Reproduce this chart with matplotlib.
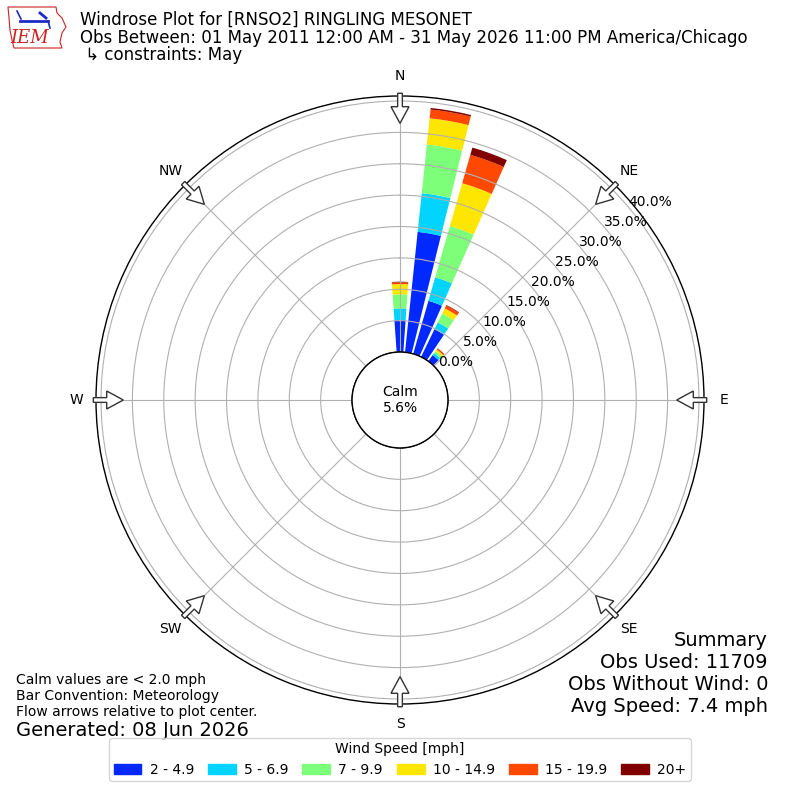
import numpy as np
import matplotlib
matplotlib.use('Agg')
import matplotlib.pyplot as plt
from matplotlib.patches import Patch, FancyArrow, Circle, Polygon
import matplotlib.transforms as mtransforms

# wind direction of each bar (deg, meteorological) and percent of obs per speed bin
directions = [0, 10, 20, 30, 40]
speed_bins = ['2 - 4.9', '5 - 6.9', '7 - 9.9', '10 - 14.9', '15 - 19.9', '20+']
bin_colors = ['#0028ff', '#00d4ff', '#7dff7a', '#ffe600', '#ff4800', '#800000']
pct_2_5 = [5.1, 19.3, 8.8, 4.9, 1.2]
pct_5_7 = [1.86, 6.2, 3.9, 1.2, 0.4]
pct_7_10 = [2.23, 7.8, 8.5, 1.6, 0.4]
pct_10_15 = [1.64, 4.2, 7.1, 0.9, 0.3]
pct_15_20 = [0.3, 1.4, 4.7, 0.5, 0.2]
pct_20p = [0.08, 0.25, 1.2, 0.1, 0.05]
calm_pct = 5.6
rticks = [0, 5, 10, 15, 20, 25, 30, 35, 40]
compass = ['N', 'NE', 'E', 'SE', 'S', 'SW', 'W', 'NW']

series = [pct_2_5, pct_5_7, pct_7_10, pct_10_15, pct_15_20, pct_20p]

fig = plt.figure(figsize=(8, 8), dpi=100)
ax = fig.add_axes([0.12, 0.12, 0.76, 0.76], projection='polar')
ax.set_theta_zero_location('N')
ax.set_theta_direction(-1)
rmax = 40.8
rorigin = -7.64
ax.set_rorigin(rorigin)
ax.set_ylim(0, rmax)

theta = np.deg2rad(directions)
bottom = np.zeros(len(directions))
for vals, col, lab in zip(series, bin_colors, speed_bins):
    ax.bar(theta, vals, width=np.deg2rad(8), bottom=bottom, color=col,
           linewidth=0, label=lab, align='center')
    bottom += np.array(vals)

ax.set_yticks(rticks)
ax.set_yticklabels([])
ax.set_xticks(np.deg2rad(np.arange(0, 360, 45)))
ax.set_xticklabels([])
ax.grid(True, color='#b0b0b0', linewidth=0.8)
ax.spines['polar'].set_linewidth(1)

# radial labels
off = mtransforms.ScaledTranslation(0.19, 0.08, fig.dpi_scale_trans)
for r in rticks:
    ax.text(np.deg2rad(50.5), r, '%.1f%%' % r, transform=ax.transData + off,
            ha='center', va='center', fontsize=10, clip_on=False, zorder=6)

# calm circle
calm_rad = (0 - rorigin) / (rmax - rorigin) * 0.5
ax.add_patch(Circle((0.5, 0.5), calm_rad, transform=ax.transAxes, fc='white',
                    ec='black', lw=1, zorder=5, clip_on=False))
ax.text(0.5, 0.5, 'Calm\n%.1f%%' % calm_pct, transform=ax.transAxes,
        ha='center', va='center', fontsize=10, zorder=6)

# compass labels
for i, lab in enumerate(compass):
    a = np.deg2rad(i * 45)
    ax.text(0.5 + 0.533 * np.sin(a), 0.5 + 0.533 * np.cos(a), lab,
            transform=ax.transAxes, ha='center', va='center', fontsize=10)

# flow arrows (pointing in to center)
R = 0.38
for i in range(8):
    a = np.deg2rad(i * 45)
    ux, uy = np.sin(a), np.cos(a)
    r0 = R + 2.7 / 800
    L = 30 / 800
    arr = FancyArrow(0.5 + r0 * ux, 0.5 + r0 * uy, -L * ux, -L * uy,
                     width=4.7 / 800, head_width=18 / 800, head_length=16.6 / 800,
                     length_includes_head=True, transform=fig.transFigure,
                     fc='white', ec='#333333', lw=1, zorder=10)
    fig.add_artist(arr)

# header
fig.text(80 / 800, 1 - 20 / 800, 'Windrose Plot for [RNSO2] RINGLING MESONET',
         fontsize=12, va='center')
fig.text(80 / 800, 1 - 38 / 800,
         'Obs Between: 01 May 2011 12:00 AM - 31 May 2026 11:00 PM America/Chicago',
         fontsize=12, va='center')
fig.text(80 / 800, 1 - 55 / 800, ' \u21b3 constraints: May', fontsize=12, va='center')

# logo
lax = fig.add_axes([0, 1 - 55 / 800, 75 / 800, 55 / 800])
lax.set_xlim(0, 75)
lax.set_ylim(55, 0)
lax.axis('off')
iowa = [(8, 7), (56, 7), (57, 13), (62, 18), (66, 27), (62, 33), (60, 42),
        (62, 48), (14, 48), (12, 40), (10, 30), (9, 18)]
lax.add_patch(Polygon(iowa, closed=True, fill=False, ec='#cc2222', lw=0.8))
lax.plot([20, 48], [21, 21], color='#1a2bc8', lw=2)
lax.plot([17, 21], [11, 19], color='#1a2bc8', lw=1.2)
lax.plot([40, 46], [13, 18], color='#1a2bc8', lw=2)
lax.plot([48, 50], [21, 28], color='#1a2bc8', lw=1.2)
lax.text(30, 38, 'IEM', color='#cc2222', fontsize=13, fontstyle='italic',
         family='DejaVu Serif', ha='center', va='center')

# summary
summary = ['Summary', 'Obs Used: 11709', 'Obs Without Wind: 0', 'Avg Speed: 7.4 mph']
for i, s in enumerate(summary):
    fig.text(768 / 800, 1 - (640 + 22 * i) / 800, s, fontsize=14,
             ha='right', va='center')

notes = ['Calm values are < 2.0 mph', 'Bar Convention: Meteorology',
         'Flow arrows relative to plot center.']
for i, s in enumerate(notes):
    fig.text(16 / 800, 1 - (680 + 16 * i) / 800, s, fontsize=10, va='center')
fig.text(16 / 800, 1 - 730 / 800, 'Generated: 08 Jun 2026', fontsize=14, va='center')

handles = [Patch(color=c, label=l) for c, l in zip(bin_colors, speed_bins)]
fig.legend(handles=handles, loc='lower center', bbox_to_anchor=(0.5, 0.015),
           ncol=6, title='Wind Speed [mph]', fontsize=10, title_fontsize=10,
           columnspacing=1.0, handletextpad=0.6, borderpad=0.3)

fig.savefig('out.png', dpi=100)
